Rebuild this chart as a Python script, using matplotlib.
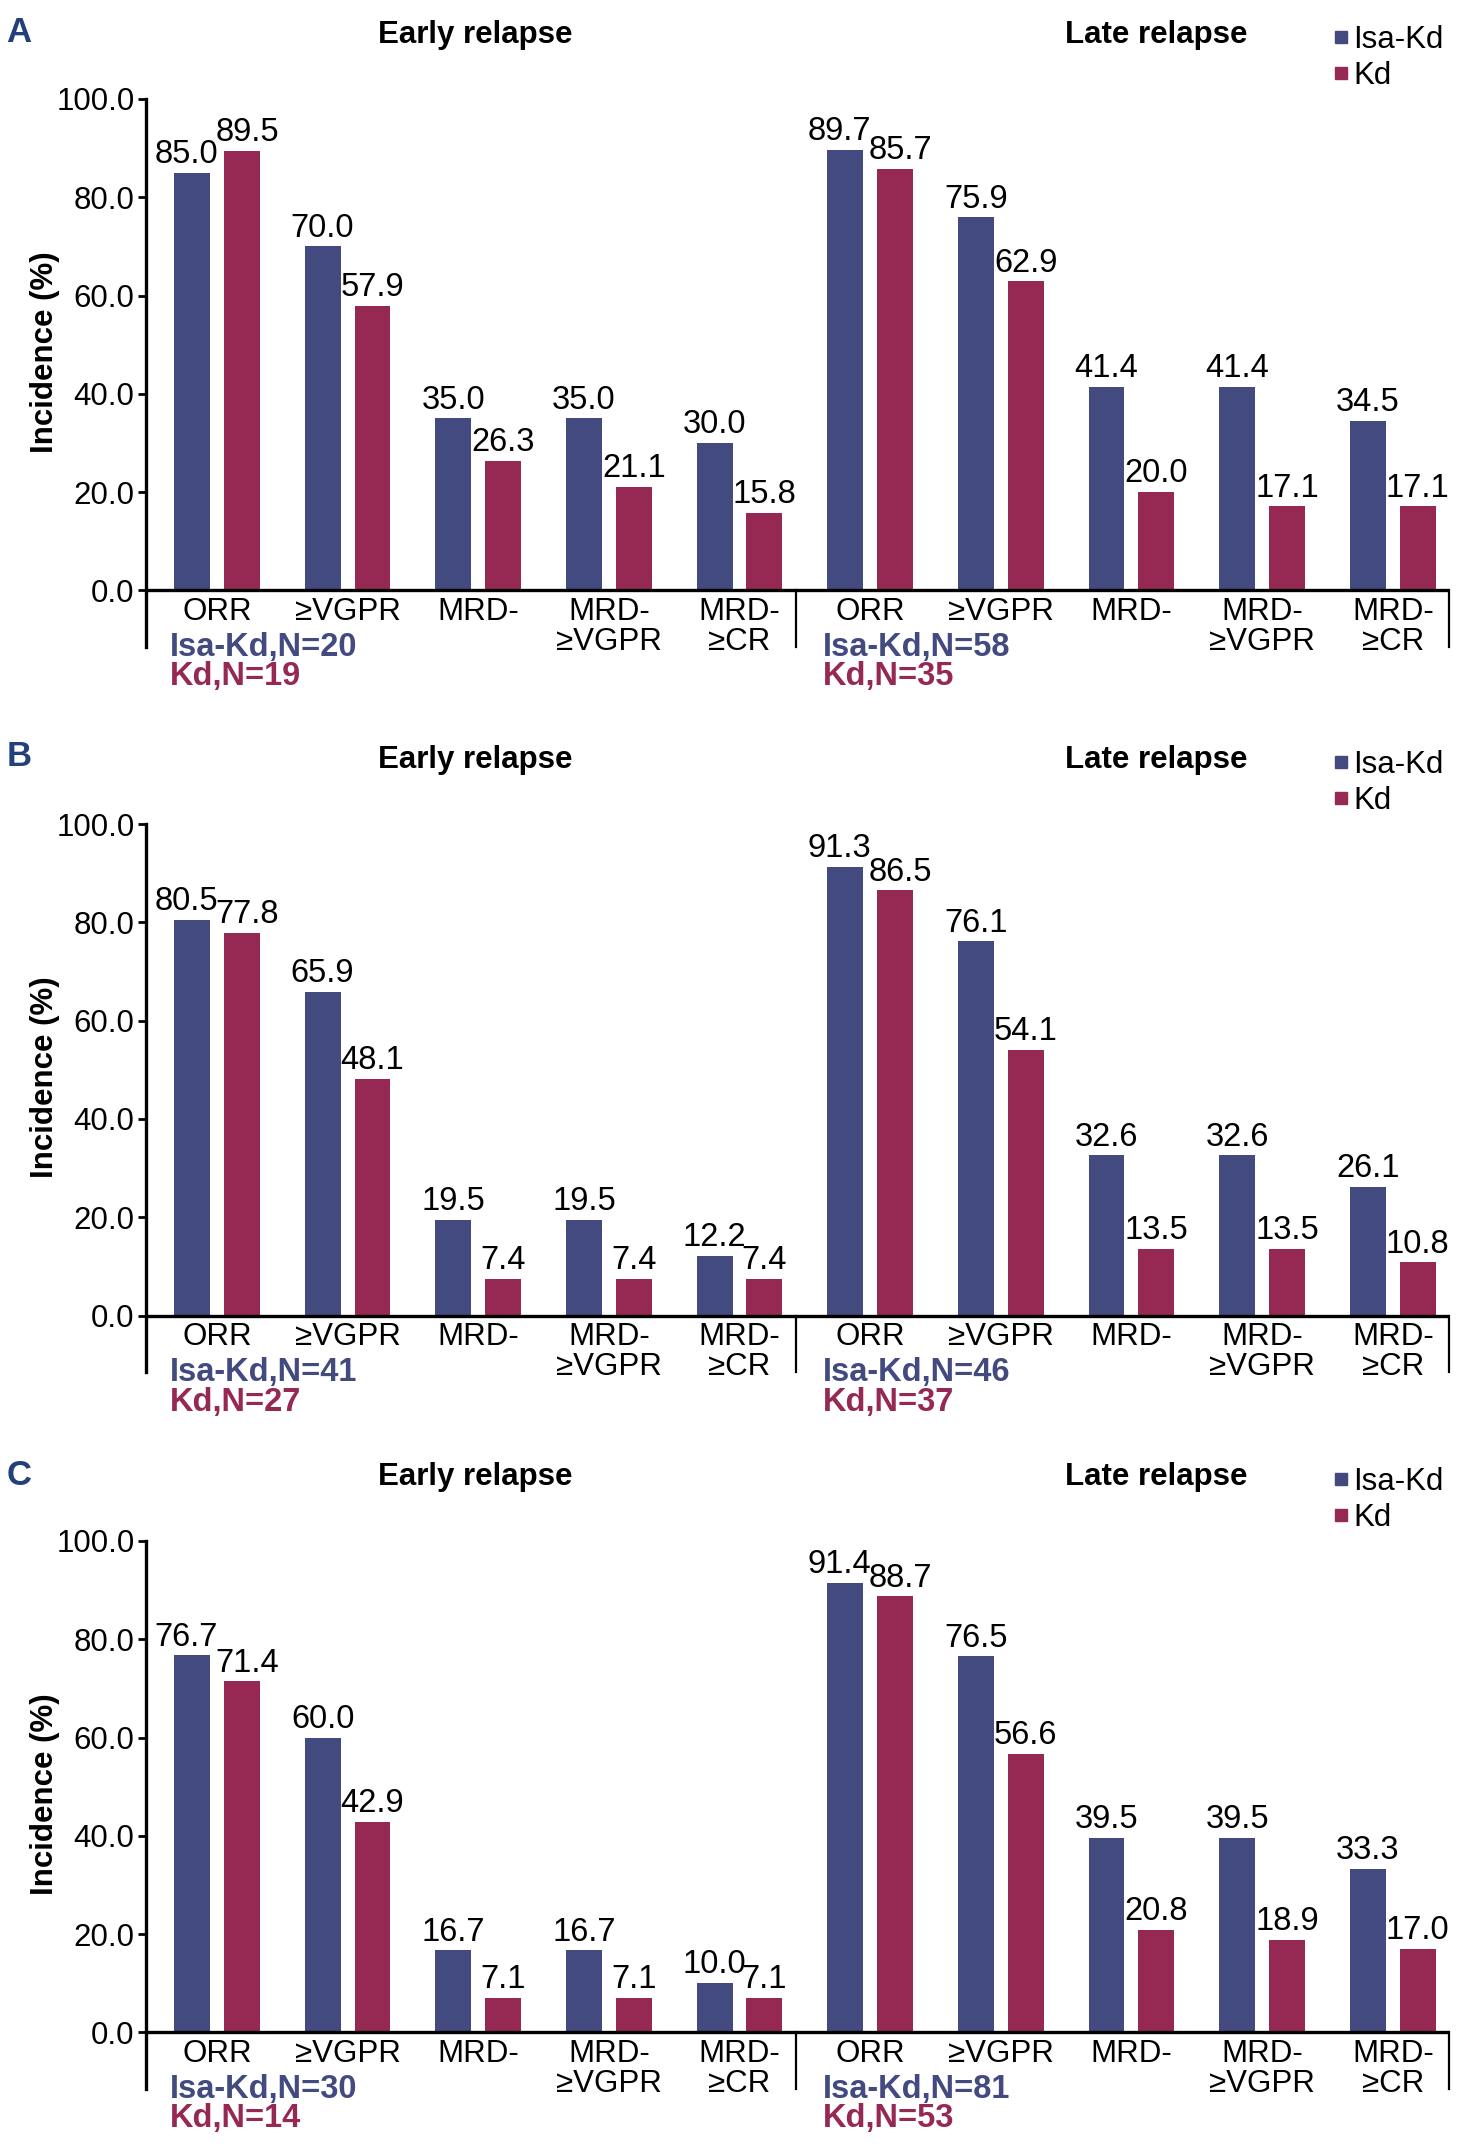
import matplotlib.pyplot as plt
from matplotlib.lines import Line2D

plt.rcParams['font.family'] = ['Liberation Sans', 'DejaVu Sans']

# categories and values for each panel
categories = ['ORR', '≥VGPR', 'MRD-', 'MRD-\n≥VGPR', 'MRD-\n≥CR']
panels = ['A', 'B', 'C']

isa_early = {'A': [85.0, 70.0, 35.0, 35.0, 30.0],
             'B': [80.5, 65.9, 19.5, 19.5, 12.2],
             'C': [76.7, 60.0, 16.7, 16.7, 10.0]}
kd_early = {'A': [89.5, 57.9, 26.3, 21.1, 15.8],
            'B': [77.8, 48.1, 7.4, 7.4, 7.4],
            'C': [71.4, 42.9, 7.1, 7.1, 7.1]}
isa_late = {'A': [89.7, 75.9, 41.4, 41.4, 34.5],
            'B': [91.3, 76.1, 32.6, 32.6, 26.1],
            'C': [91.4, 76.5, 39.5, 39.5, 33.3]}
kd_late = {'A': [85.7, 62.9, 20.0, 17.1, 17.1],
           'B': [86.5, 54.1, 13.5, 13.5, 10.8],
           'C': [88.7, 56.6, 20.8, 18.9, 17.0]}
n_early = {'A': (20, 19), 'B': (41, 27), 'C': (30, 14)}
n_late = {'A': (58, 35), 'B': (46, 37), 'C': (81, 53)}

blue = '#434a80'
red = '#962954'
fs = 22.5

fig = plt.figure(figsize=(14.7, 21.56), dpi=100)

axes_pos = {'A': (0.9541, 0.6999), 'B': (0.6178, 0.3636), 'C': (0.2853, 0.0311)}
letter_y = {'A': 0.985, 'B': 0.649, 'C': 0.3155}

width = 0.275
off = 0.191

for p in panels:
    top, bot = axes_pos[p]
    ax = fig.add_axes([0.099, bot, 0.8867, top - bot])

    isa = isa_early[p] + isa_late[p]
    kd = kd_early[p] + kd_late[p]
    x = list(range(10))
    b1 = ax.bar([i - off for i in x], isa, width, color=blue)
    b2 = ax.bar([i + off for i in x], kd, width, color=red)

    # value labels, nudged apart where the two tall bars are close in height
    for i in x:
        close = abs(isa[i] - kd[i]) < 6 and isa[i] > 50
        for r, dx in ((b1[i], -4 if close else 0), (b2[i], 4 if close else 0)):
            ax.annotate(f'{r.get_height():.1f}', (r.get_x() + r.get_width() / 2, r.get_height()),
                        xytext=(dx, 2), textcoords='offset points', ha='center', va='bottom',
                        fontsize=23.5, clip_on=False)

    ax.set_xlim(-0.546, 9.43)
    ax.set_ylim(-11.5, 100)
    ax.set_yticks([0, 20, 40, 60, 80, 100])
    ax.set_yticklabels(['0.0', '20.0', '40.0', '60.0', '80.0', '100.0'], fontsize=fs)
    ax.tick_params(axis='y', length=6, width=2, pad=2)
    ax.set_xticks([])
    for s in ['top', 'right', 'bottom']:
        ax.spines[s].set_visible(False)
    ax.spines['left'].set_linewidth(2.4)

    ax.axhline(0, color='black', lw=2.4)
    ax.plot([4.43, 4.43], [0, -11.5], color='black', lw=1.6, clip_on=False)
    ax.plot([9.43, 9.43], [0, -11.5], color='black', lw=1.6, clip_on=False)

    for i in x:
        ax.text(i, -1.4, categories[i % 5], ha='center', va='top', fontsize=fs, linespacing=1.0)

    for g, n in ((0, n_early[p]), (5, n_late[p])):
        ax.text(g - 0.36, -11.6, f'Isa-Kd,N={n[0]}', color=blue, fontsize=23.5,
                fontweight='bold', ha='left', va='center')
        ax.text(g - 0.36, -17.6, f'Kd,N={n[1]}', color=red, fontsize=23.5,
                fontweight='bold', ha='left', va='center')

    ax.text(1.98, 113, 'Early relapse', ha='center', va='center', fontsize=fs, fontweight='bold')
    ax.text(7.19, 113, 'Late relapse', ha='center', va='center', fontsize=fs, fontweight='bold')
    ax.text(-0.077, 0.538, 'Incidence (%)', rotation=90, ha='center', va='center',
            fontsize=fs, fontweight='bold', transform=ax.transAxes)

    handles = [Line2D([], [], marker='s', color=blue, ls='none', markersize=8),
               Line2D([], [], marker='s', color=red, ls='none', markersize=8)]
    ax.legend(handles, ['Isa-Kd', 'Kd'], loc='upper left', bbox_to_anchor=(0.911, 1.135),
              frameon=False, fontsize=fs, handlelength=0.5, handletextpad=0.15,
              labelspacing=0.2, borderaxespad=0, borderpad=0)

    fig.text(0.013, letter_y[p], p, color='#22407a', fontsize=25, fontweight='bold',
             ha='center', va='center')

fig.savefig('out.png', dpi=100)
